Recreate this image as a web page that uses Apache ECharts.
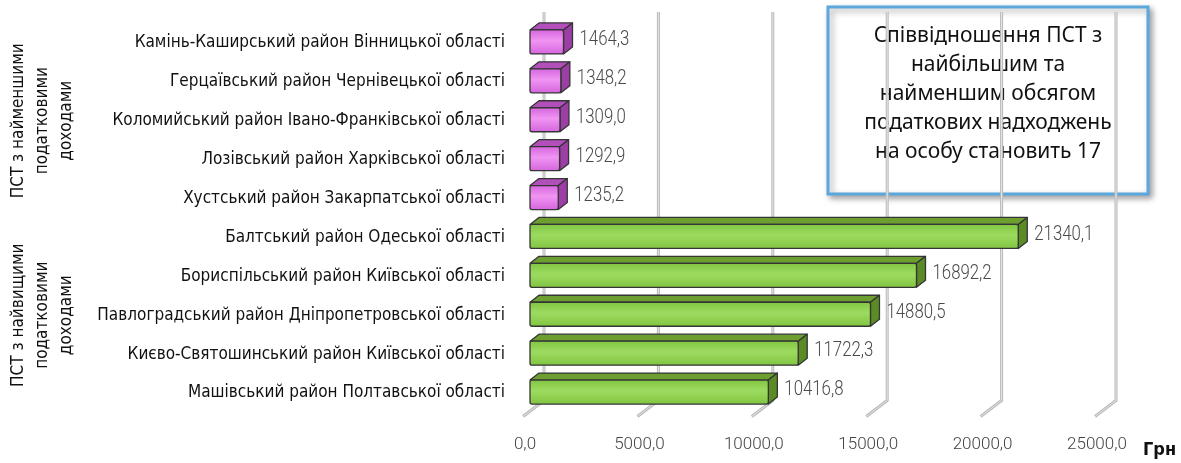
<!DOCTYPE html>
<html lang="uk">
<head>
    <meta charset="utf-8" />
    <title>ПСТ: податкові надходження на особу</title>
    <script type="text/javascript" src="https://cdn.jsdelivr.net/npm/echarts@6/dist/echarts.min.js"></script>
    <style type="text/css">
        html, body { margin: 0; padding: 0; background: #fff; }
        #main { width: 1181px; height: 463px; }
    </style>
</head>
<body>
    <div id="main"></div>
    <script type="text/javascript">
        // ПСТ з найменшими доходами (зверху вниз)
        var lowCats = [
            'Камінь-Каширський район Вінницької області',
            'Герцаївський район Чернівецької області',
            'Коломийський район Івано-Франківської області',
            'Лозівський район Харківської області',
            'Хустський район Закарпатської області'
        ];
        var lowVals = [1464.3, 1348.2, 1309.0, 1292.9, 1235.2];

        // ПСТ з найвищими доходами
        var highCats = [
            'Балтський район Одеської області',
            'Бориспільський район Київської області',
            'Павлоградський район Дніпропетровської області',
            'Києво-Святошинський район Київської області',
            'Машівський район Полтавської області'
        ];
        var highVals = [21340.1, 16892.2, 14880.5, 11722.3, 10416.8];

        var groupNames = ['ПСТ з найменшими\nподатковими\nдоходами', 'ПСТ з найвищими\nподатковими\nдоходами'];
        var xTicks = [0, 5000, 10000, 15000, 20000, 25000];
        var unitName = 'Грн';
        var noteText = 'Співвідношення ПСТ з\nнайбільшим та\nнайменшим обсягом\nподаткових надходжень\nна особу становить 17';

        var allCats = lowCats.concat(highCats);
        var condensed = '"DejaVu Sans Condensed", "Liberation Sans Narrow", sans-serif';

        function fmt(v) {
            return v.toFixed(1).replace('.', ',');
        }

        // 3D-подібна смуга: передня грань, верх і бік
        function boxRenderer(front, frontLight, top, side) {
            return function (params, api) {
                var v = api.value(0), idx = api.value(1);
                var p0 = api.coord([0, idx]);
                var p1 = api.coord([v, idx]);
                var h = 24, dx = 9, dy = 7;
                var cy = p0[1] - 1;
                var y0 = cy - h / 2, y1 = cy + h / 2;
                var x0 = p0[0], x1 = p1[0];
                var line = { stroke: '#353535', lineWidth: 1.3, lineJoin: 'round' };
                return {
                    type: 'group',
                    children: [
                        { type: 'polygon', shape: { points: [[x0, y0], [x0 + dx, y0 - dy], [x1 + dx, y0 - dy], [x1, y0]] },
                          style: Object.assign({ fill: top }, line) },
                        { type: 'polygon', shape: { points: [[x1, y0], [x1 + dx, y0 - dy], [x1 + dx, y1 - dy], [x1, y1]] },
                          style: Object.assign({ fill: side }, line) },
                        { type: 'rect', shape: { x: x0, y: y0, width: x1 - x0, height: h, r: 2 },
                          style: Object.assign({
                              fill: new echarts.graphic.LinearGradient(0, 0, 0, 1, [
                                  { offset: 0, color: front },
                                  { offset: 0.45, color: frontLight },
                                  { offset: 1, color: front }
                              ])
                          }, line) },
                        // підпис значення: вузький шрифт через scaleX
                        { type: 'text', x: x1 + dx + 7, y: cy - 2, scaleX: 0.8,
                          style: { text: fmt(v), x: 0, y: 0,
                          verticalAlign: 'middle', align: 'left',
                          fontFamily: 'Roboto', fontWeight: 300, fontSize: 21, fill: '#4a4a4a' } }
                    ]
                };
            };
        }

        // сітка у «перспективі»: задня вертикаль + скіс до передньої площини
        function gridRenderer(params, api) {
            var cs = params.coordSys;
            var fx = api.coord([api.value(0), 0])[0];
            var bottom = cs.y + cs.height;
            var pts = [[fx + 14, 12], [fx + 14, bottom - 12], [fx - 7, bottom + 4]];
            return {
                type: 'group',
                children: [
                    { type: 'polyline', shape: { points: pts }, style: { stroke: '#b9b9b9', lineWidth: 3, fill: null } },
                    { type: 'polyline', shape: { points: pts }, style: { stroke: '#e6e6e6', lineWidth: 1, fill: null } }
                ]
            };
        }

        var myChart = echarts.init(document.getElementById('main'));

        var option = {
            animation: false,
            grid: { left: 530, right: 79, top: 23.5, bottom: 50.5 },
            xAxis: {
                type: 'value',
                min: 0,
                max: 25000,
                interval: 5000,
                axisLine: { show: false },
                axisTick: { show: false },
                splitLine: { show: false },
                axisLabel: {
                    margin: 24,
                    formatter: function (v) { return fmt(v); },
                    fontFamily: 'Roboto',
                    fontWeight: 300,
                    fontSize: 17,
                    color: '#444',
                    padding: [0, 10, 0, 0]
                }
            },
            yAxis: [{
                type: 'category',
                data: allCats,
                inverse: true,
                axisLine: { show: false },
                axisTick: { show: false },
                axisLabel: { margin: 25, interval: 0, fontFamily: condensed, fontSize: 17, color: '#111' }
            }, {
                type: 'category',
                data: groupNames,
                inverse: true,
                position: 'left',
                axisLine: { show: false },
                axisTick: { show: false },
                axisLabel: {
                    rotate: 90, margin: 451, lineHeight: 24, interval: 0,
                    fontFamily: condensed, fontSize: 17, color: '#111'
                }
            }],
            series: [{
                type: 'custom',
                z: 1,
                renderItem: gridRenderer,
                encode: { x: 0 },
                data: xTicks.map(function (t) { return [t]; }),
                silent: true
            }, {
                type: 'custom',
                z: 3,
                renderItem: boxRenderer('#d563dd', '#f095f2', '#b24fbb', '#9c3ea6'),
                encode: { x: 0, y: 1 },
                data: lowVals.map(function (v, i) { return [v, i]; })
            }, {
                type: 'custom',
                z: 3,
                renderItem: boxRenderer('#80c440', '#9ddb60', '#6c9e30', '#5a8b24'),
                encode: { x: 0, y: 1 },
                data: highVals.map(function (v, i) { return [v, lowCats.length + i]; })
            }],
            graphic: [{
                type: 'text',
                left: 1143,
                top: 441,
                style: { text: unitName, fontFamily: condensed, fontSize: 18, fontWeight: 'bold', fill: '#111' }
            }, {
                type: 'group',
                z: 10,
                children: [{
                    type: 'rect',
                    shape: { x: 828, y: 7, width: 320, height: 187 },
                    style: {
                        fill: '#fff', stroke: '#5ba7de', lineWidth: 3,
                        shadowBlur: 6, shadowOffsetX: 3, shadowOffsetY: 3, shadowColor: 'rgba(0,0,0,0.35)'
                    }
                }, {
                    type: 'text',
                    style: {
                        x: 988, y: 94, text: noteText,
                        align: 'center', verticalAlign: 'middle', lineHeight: 29,
                        font: '21px "Noto Sans", "Open Sans", sans-serif', fill: '#111'
                    }
                }]
            }]
        };
        myChart.setOption(option);
    </script>
</body>
</html>
